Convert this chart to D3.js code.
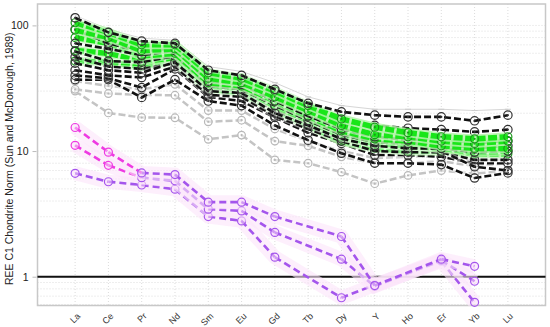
<!DOCTYPE html>
<html><head><meta charset="utf-8">
<script src="https://cdn.jsdelivr.net/npm/d3@7"></script>
<style>body{margin:0;background:#fff}svg{display:block}</style>
</head><body>
<script>
const categories = ["La","Ce","Pr","Nd","Sm","Eu","Gd","Tb","Dy","Y","Ho","Er","Yb","Lu"];
const yTickValues = [1, 10, 100];
const yTickLabels = ["1", "10", "100"];
const yTitle = "REE C1 Chondrite Norm (Sun and McDonough, 1989)";

// envelope (thin light grey)
const envelope = [120, 93, 79, 76, 47, 43, 35, 27, 23, 21.5, 21.5, 21.5, 21, 21.5];

// grey samples
const grey1 = [31, 28.7, 28, 27.8, 17.1, 17.6, 12, 11, 9, 8, 8, 8.3, 7.6, 8];
const grey2 = [30, 20.1, 18.5, 18.4, 12.4, 13.4, 8.5, 8, 6.8, 5.5, 6.4, 7, 6.6, 7];
const grey3 = [36, 33, 31, 34, 21, 21, 15, 12, 10, 8.8, 9, 9, 8.4, 8.6];

// black samples
const black1 = [115, 88, 75, 72, 44, 40, 31, 24, 20.5, 19.3, 18.7, 18.7, 17.4, 19.3];
const black2 = [93, 72, 62, 66, 40, 37, 28, 22, 17, 16, 15.2, 14.8, 14.2, 14.8];
const black3 = [72, 65, 58, 63, 36, 34, 25, 19, 15, 13, 12.3, 12.5, 11.5, 12];
const black4 = [62, 52, 51, 57, 33, 31, 23, 17.5, 13.5, 11.8, 11.5, 11.5, 10.5, 11];
const black5 = [50, 44, 42, 51, 30, 29, 20, 16, 12.5, 11, 10.5, 10.5, 9.8, 10];
const black6 = [44, 40, 38.5, 47, 28, 27, 19, 15, 12, 10, 9.8, 9.8, 8.5, 8.5];
const black7 = [40, 38, 32, 45, 27, 25, 18.5, 14, 11.5, 9.3, 9.3, 9, 8, 8];
const black8 = [37, 37, 26.7, 37, 25, 23, 16, 12.2, 9.6, 8, 8, 7.8, 6.1, 6.7];
const black9 = [56, 47, 45, 50, 31, 30, 21, 16.5, 13, 11.1, 10.8, 10, 7.5, 7];

// green samples
const green1 = [105, 88, 70, 70, 42, 38, 30, 23, 18, 15.5, 14, 13, 12.5, 13];
const green2 = [92, 80, 63, 65, 38, 35, 27, 21, 16, 13.5, 13, 12, 11.5, 12];
const green3 = [80, 72, 57, 60, 35, 33, 25, 19, 14.5, 12.5, 12, 11, 10.5, 10.5];
const green4 = [63, 60, 52, 55, 33, 31, 23, 17.5, 13, 11.5, 11, 10.5, 9.8, 10];
const green5 = [52, 51, 47, 51, 31, 29, 21, 16, 12, 10.5, 10, 10, 9.5, 9.5];

// pink / purple samples (no Tb, Ho, Lu)
const purple1 = [15.4, 9.8, 6.7, 6.5, 3.92, 3.92, 3.01, null, 2.09, 0.85, null, 1.38, 1.21, null];
const purple2 = [11.1, 7.7, 6.14, 5.8, 3.45, 3.34, 2.25, null, 1.38, 0.84, null, 1.35, 0.92, null];
const purple3 = [6.65, 5.7, 5.37, 4.97, 3.01, 2.78, 1.43, null, 0.68, 0.86, null, 1.33, 0.625, null];

const W = 550, H = 327;
const m = {l: 37.5, t: 4, r: 545.5, b: 305.5};
const svg = d3.select("body").append("svg").attr("width", W).attr("height", H)
  .style("font-family", "'Liberation Sans', Arial, sans-serif");

const x = d3.scalePoint().domain(categories).range([m.l, m.r]).padding(1.13);
const y = d3.scaleLog().domain([0.59, 148]).range([m.b, m.t]);

// grid
const g = svg.append("g");
const minor = [];
[0.1, 1, 10, 100].forEach(d => { for (let k = 1; k <= 9; k++) { const v = d * k; if (v > 0.59 && v < 148) minor.push(v); } });
g.selectAll(".hg").data(minor).join("line")
  .attr("x1", m.l).attr("x2", m.r).attr("y1", d => y(d)).attr("y2", d => y(d))
  .attr("stroke", "#dcdcdc").attr("stroke-width", 1).attr("stroke-dasharray", "1,2");
g.selectAll(".vg").data(categories).join("line")
  .attr("x1", d => x(d)).attr("x2", d => x(d)).attr("y1", m.t).attr("y2", m.b)
  .attr("stroke", "#dcdcdc").attr("stroke-width", 1).attr("stroke-dasharray", "1,2");

// frame
svg.append("rect").attr("x", m.l).attr("y", m.t).attr("width", m.r - m.l).attr("height", m.b - m.t)
  .attr("fill", "none").attr("stroke", "#c8c8c8").attr("stroke-width", 1.5);

// y axis via d3 axis
const yAxis = d3.axisLeft(y).tickValues(yTickValues).tickFormat((d, i) => yTickLabels[i]).tickSize(4).tickPadding(4);
const ya = svg.append("g").attr("transform", `translate(${m.l - 1},0)`).call(yAxis);
ya.select(".domain").remove();
ya.selectAll("line").attr("stroke", "#bbb");
ya.selectAll("text").attr("font-size", 10.5).attr("fill", "#222").style("font-family", "'Liberation Sans', Arial, sans-serif");

// x labels
const xAxis = d3.axisBottom(x).tickSize(0).tickPadding(0);
const xa = svg.append("g").attr("transform", `translate(0,${m.b + 9})`).call(xAxis);
xa.select(".domain").remove();
xa.selectAll("text").attr("font-size", 9).attr("fill", "#333")
  .attr("text-anchor", "end").attr("dy", "0.35em")
  .attr("transform", "translate(3,0) rotate(-45)")
  .style("font-family", "'Liberation Sans', Arial, sans-serif");

// y title
svg.append("text").attr("transform", `translate(13,${(m.t + m.b) / 2 + 4}) rotate(-90)`)
  .attr("text-anchor", "middle").attr("font-size", 10.5).attr("fill", "#222").text(yTitle);

const line = d3.line().x(d => x(d.c)).y(d => y(d.v));
const pts = arr => arr.map((v, i) => ({c: categories[i], v})).filter(d => d.v != null);

// envelope
svg.append("path").datum(pts(envelope)).attr("d", line).attr("fill", "none")
  .attr("stroke", "#d6d6d6").attr("stroke-width", 1);
svg.selectAll(".envm").data(pts(envelope).slice(4)).join("line")
  .attr("x1", d => x(d.c) - 3).attr("x2", d => x(d.c) + 3).attr("y1", d => y(d.v)).attr("y2", d => y(d.v))
  .attr("stroke", "#ccc").attr("stroke-width", 1);

function drawSeries(arr, o) {
  const p = pts(arr);
  const gg = svg.append("g");
  gg.append("path").datum(p).attr("d", line).attr("fill", "none")
    .attr("stroke", o.halo).attr("stroke-opacity", o.haloOp).attr("stroke-width", o.haloW)
    .attr("stroke-linejoin", "round");
  gg.append("path").datum(p).attr("d", line).attr("fill", "none")
    .attr("stroke", o.color).attr("stroke-width", o.w).attr("stroke-dasharray", o.dash);
  gg.selectAll("circle.o").data(p).join("circle").attr("class", "o")
    .attr("cx", d => x(d.c)).attr("cy", d => y(d.v)).attr("r", o.r)
    .attr("fill", o.fill).attr("stroke", o.mcolor || o.color).attr("stroke-width", 1.2);
  if (o.dot) gg.selectAll("circle.d").data(p).join("circle").attr("class", "d")
    .attr("cx", d => x(d.c)).attr("cy", d => y(d.v)).attr("r", 1.1).attr("fill", o.mcolor || o.color);
}

const greyOpt = {color: "#c4c4c4", w: 2.5, dash: "7,3", halo: "#ffffff", haloOp: 0.6, haloW: 6, r: 3.8, fill: "rgba(255,255,255,0.5)", mcolor: "#b8b8b8", dot: true};
const blackOpt = {color: "#111", w: 2.6, dash: "7,3", halo: "#ffffff", haloOp: 0.45, haloW: 5, r: 4.2, fill: "none", mcolor: "#333", dot: true};
const greenOpt = {color: "#19e619", w: 5.5, dash: "9,2.5", halo: "#b4f3aa", haloOp: 0.85, haloW: 9, r: 4, fill: "none", mcolor: "#1a9a1a", dot: true};

[grey2, grey1, grey3].forEach(s => drawSeries(s, greyOpt));
drawSeries(black8, blackOpt);
drawSeries(black7, blackOpt);
drawSeries(green5, greenOpt);
drawSeries(black6, blackOpt);
drawSeries(black9, blackOpt);
drawSeries(green4, greenOpt);
drawSeries(black5, blackOpt);
drawSeries(black4, blackOpt);
drawSeries(green3, greenOpt);
drawSeries(black3, blackOpt);
drawSeries(black2, blackOpt);
drawSeries(green2, greenOpt);
drawSeries(green1, greenOpt);
drawSeries(black1, blackOpt);

// y = 1 reference line
svg.append("line").attr("x1", m.l).attr("x2", m.r).attr("y1", y(1)).attr("y2", y(1))
  .attr("stroke", "#111").attr("stroke-width", 2);

// pink / purple
const magenta = "#ee3ae2", purple = "#a455ec";
function drawPurple(arr, magentaUntil) {
  const p = pts(arr);
  const gg = svg.append("g");
  gg.append("path").datum(p).attr("d", line).attr("fill", "none")
    .attr("stroke", "#fce4fa").attr("stroke-opacity", 0.6).attr("stroke-width", 14);
  for (let i = 0; i < p.length - 1; i++) {
    gg.append("path").datum([p[i], p[i + 1]]).attr("d", line).attr("fill", "none")
      .attr("stroke", i < magentaUntil ? magenta : purple).attr("stroke-width", 2.6).attr("stroke-dasharray", "7,4");
  }
  gg.selectAll("circle").data(p).join("circle")
    .attr("cx", d => x(d.c)).attr("cy", d => y(d.v)).attr("r", 4)
    .attr("fill", "rgba(250,220,250,0.5)")
    .attr("stroke", (d, i) => i < magentaUntil ? magenta : purple).attr("stroke-width", 1.2);
}
drawPurple(purple3, 0);
drawPurple(purple2, 2);
drawPurple(purple1, 2);
</script>
</body></html>
